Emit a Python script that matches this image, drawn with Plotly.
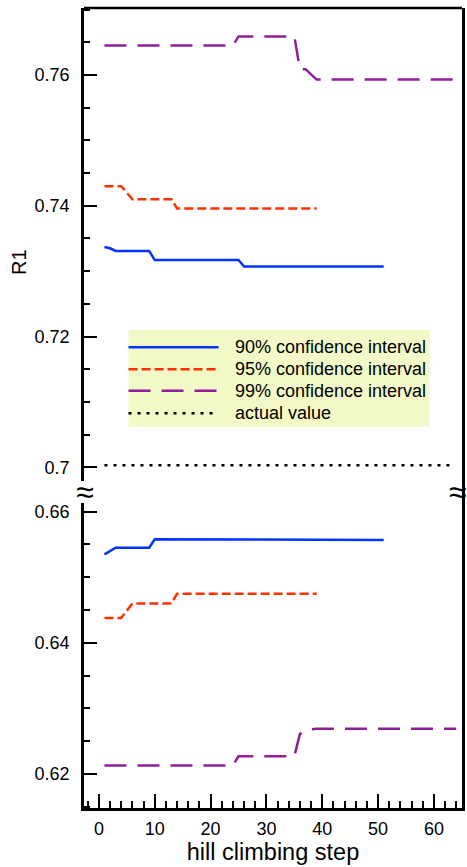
import plotly.graph_objects as go

# ---------------- data ----------------
steps_90 = list(range(1, 52))
upper_90 = [0.7337, 0.7335] + [0.7331] * 7 + [0.7317] * 16 + [0.7307] * 26
lower_90 = [0.6535, 0.6540] + [0.6545] * 7 + [0.6558] * 16 + [0.6557] * 26

steps_95 = list(range(1, 40))
upper_95 = [0.7430] * 4 + [0.7420] + [0.7410] * 8 + [0.7396] * 26
lower_95 = [0.6438] * 4 + [0.6449] + [0.6460] * 8 + [0.6475] * 26

steps_99 = list(range(1, 65))
upper_99 = [0.7645] * 24 + [0.7659] * 11 + [0.7609] * 2 + [0.7601] + [0.7593] * 26
lower_99 = [0.6213] * 24 + [0.6227] * 11 + [0.6261, 0.6265, 0.6268] + [0.6269] * 26

actual_steps = [1, 63]
actual_value = [0.7003, 0.7003]

legend_labels = ["90% confidence interval", "95% confidence interval",
                 "99% confidence interval", "actual value"]
ytick_top_vals = [0.70, 0.72, 0.74, 0.76]
ytick_top_text = ["0.7", "0.72", "0.74", "0.76"]
ytick_bot_vals = [0.62, 0.64, 0.66]
ytick_bot_text = ["0.62", "0.64", "0.66"]
xtick_vals = [0, 10, 20, 30, 40, 50, 60]

# ---------------- styles ----------------
FONT = "Liberation Sans, Arial, Helvetica, sans-serif"
BLUE = "#0433ff"
RED = "#ff2f00"
PURPLE = "#8e1f98"
BLACK = "#000000"
LW = 2.5
styles = [
    dict(color=BLUE, width=LW, dash="solid"),
    dict(color=RED, width=LW, dash="9px,4px"),
    dict(color=PURPLE, width=LW, dash="22px,11px"),
    dict(color=BLACK, width=LW, dash="3px,6px"),
]

fig = go.Figure()
series = [
    (steps_90, upper_90, lower_90, 0),
    (steps_95, upper_95, lower_95, 1),
    (steps_99, upper_99, lower_99, 2),
]
for xs, up, lo, k in series:
    fig.add_trace(go.Scatter(x=xs, y=up, mode="lines", line=styles[k],
                             xaxis="x", yaxis="y2", showlegend=False, hoverinfo="skip"))
    fig.add_trace(go.Scatter(x=xs, y=lo, mode="lines", line=styles[k],
                             xaxis="x", yaxis="y", showlegend=False, hoverinfo="skip"))
fig.add_trace(go.Scatter(x=actual_steps, y=actual_value, mode="lines", line=styles[3],
                         xaxis="x", yaxis="y2", showlegend=False, hoverinfo="skip"))

SPLIT = 0.395
common_y = dict(
    showline=True, linecolor="black", linewidth=2.5, mirror=True,
    ticks="inside", ticklen=13, tickwidth=2, tickcolor="black",
    showgrid=False, zeroline=False, tickmode="array",
    tickfont=dict(family=FONT, size=18, color="black"),
    ticklabelstandoff=8,
    minor=dict(tickmode="linear", tick0=0, dtick=0.005, ticks="inside",
               ticklen=6, tickwidth=1.5, tickcolor="black", showgrid=False),
)

fig.update_layout(
    width=467, height=867,
    margin=dict(l=84, r=2, t=8, b=59),
    paper_bgcolor="white", plot_bgcolor="white",
    showlegend=False,
    font=dict(family=FONT, color="black"),
    xaxis=dict(
        domain=[0, 1], anchor="y", range=[-2.665, 65.03],
        showline=True, linecolor="black", linewidth=2.5, mirror=False,
        ticks="inside", ticklen=14, tickwidth=2, tickcolor="black",
        tickmode="array", tickvals=xtick_vals,
        tickfont=dict(family=FONT, size=18, color="black"),
        ticklabelstandoff=3,
        minor=dict(tickmode="linear", tick0=0, dtick=2, ticks="inside",
                   ticklen=7, tickwidth=1.5, tickcolor="black", showgrid=False),
        showgrid=False, zeroline=False,
        title=dict(text="hill climbing step", font=dict(family=FONT, size=23.5, color="black"),
                   standoff=5),
    ),
    yaxis=dict(domain=[0, SPLIT], anchor="x", range=[0.61482, 0.6630],
               tickvals=ytick_bot_vals, ticktext=ytick_bot_text, **common_y),
    yaxis2=dict(domain=[SPLIT, 1], anchor="x", range=[0.69622, 0.77025],
                tickvals=ytick_top_vals, ticktext=ytick_top_text, **common_y),
)

shapes = []
# top frame line
shapes.append(dict(type="line", xref="paper", yref="paper", x0=0, x1=1, y0=1, y1=1,
                   line=dict(color="black", width=2.5), layer="above"))
# legend box
LX0, LX1, LY0, LY1 = 0.1178, 0.9144, 0.4766, 0.5975
shapes.append(dict(type="rect", xref="paper", yref="paper", x0=LX0, x1=LX1, y0=LY0, y1=LY1,
                   fillcolor="#f2f9c6", line=dict(width=0), layer="above"))
row_y = [0.5759, 0.5484, 0.5216, 0.4934]
annotations = []
for i, (lab, st) in enumerate(zip(legend_labels, styles)):
    shapes.append(dict(type="line", xref="paper", yref="paper", x0=LX0, x1=0.356,
                       y0=row_y[i], y1=row_y[i], line=st, layer="above"))
    annotations.append(dict(xref="paper", yref="paper", x=0.3935, y=row_y[i], text=lab,
                            showarrow=False, xanchor="left", yanchor="middle",
                            font=dict(family=FONT, size=18, color="black")))

# axis break marks
annotations.append(dict(xref="paper", yref="paper", x=(85 - 84) / 381, y=SPLIT, text="≈",
                        showarrow=False, xanchor="center", yanchor="middle",
                        font=dict(family=FONT, size=32, color="black"),
                        bgcolor="white", width=18, height=22, borderpad=0, borderwidth=0))
annotations.append(dict(xref="paper", yref="paper", x=(461 - 84) / 381, y=SPLIT, text="≈",
                        showarrow=False, xanchor="center", yanchor="middle",
                        font=dict(family=FONT, size=32, color="black")))
# y title
annotations.append(dict(xref="paper", yref="paper", x=(19 - 84) / 381, y=0.682, text="R1",
                        textangle=-90, showarrow=False, xanchor="center", yanchor="middle",
                        font=dict(family=FONT, size=20, color="black")))

fig.update_layout(shapes=shapes, annotations=annotations)
fig.write_html("out.html")
